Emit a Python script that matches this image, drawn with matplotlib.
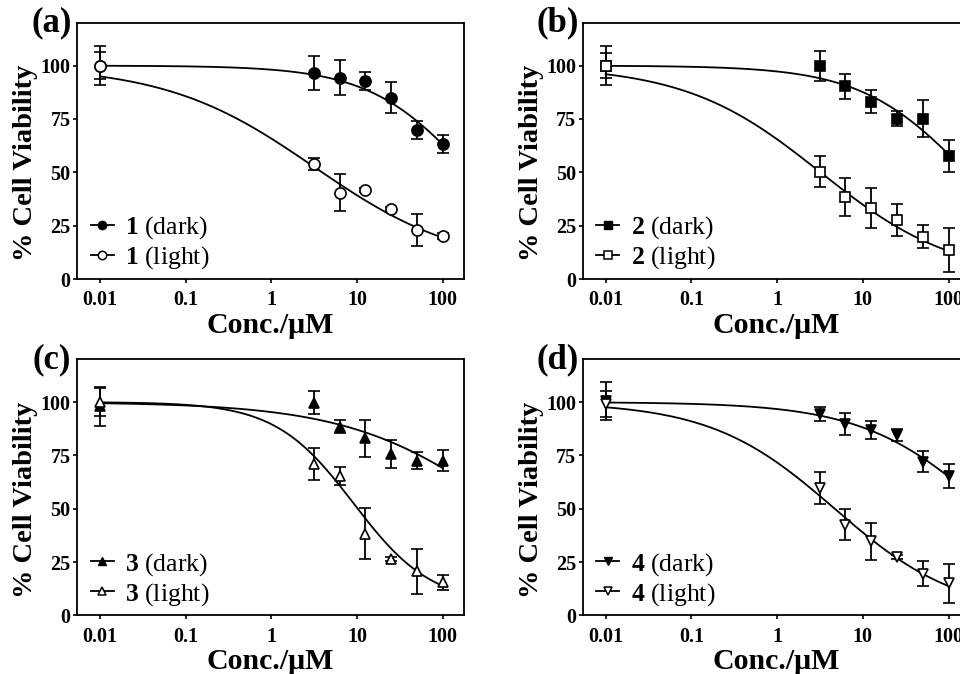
import numpy as np
import matplotlib.pyplot as plt
from matplotlib.lines import Line2D

plt.rcParams['font.family'] = ['Liberation Serif', 'DejaVu Serif']
plt.rcParams['font.weight'] = 'bold'
plt.rcParams['mathtext.fontset'] = 'custom'
plt.rcParams['mathtext.rm'] = 'Liberation Serif'
plt.rcParams['mathtext.bf'] = 'Liberation Serif:bold'

# concentrations (uM)
conc = [0.01, 3.125, 6.25, 12.5, 25, 50, 100]

# % cell viability, mean and error
dark_1 = [100, 96.7, 94.4, 92.8, 85.0, 69.8, 63.2]
dark_1_err = [9, 8, 8, 4, 7.4, 4.4, 4.2]
light_1 = [100, 53.7, 40.5, 41.7, 32.7, 23.1, 20.2]
light_1_err = [6.5, 2.8, 8.7, 1, 1, 7.6, 1.5]

dark_2 = [100, 100, 90.3, 83.0, 75.2, 75.2, 57.6]
dark_2_err = [9, 7, 5.8, 5.4, 3.6, 8.6, 7.4]
light_2 = [100, 50.3, 38.5, 33.2, 27.7, 19.9, 13.6]
light_2_err = [6, 7.4, 8.8, 9.5, 7.4, 5.4, 10.5]

dark_3 = [98, 99.7, 88.4, 83.0, 75.8, 72.5, 72.5]
dark_3_err = [9, 5.5, 3, 8.6, 6.5, 4, 5]
light_3 = [100, 71.2, 65.3, 38.3, 26.6, 20.8, 15.6]
light_3_err = [6.5, 7.5, 4.2, 12, 1, 10.5, 3.5]

dark_4 = [100.5, 94.2, 89.7, 86.9, 84.6, 72.1, 65.4]
dark_4_err = [9, 3.3, 5, 4, 2.7, 4.9, 5.8]
light_4 = [99, 59.7, 42.5, 34.7, 27.4, 19.6, 15.0]
light_4_err = [6, 7.6, 7.2, 8.8, 1, 6, 9]

# four-parameter logistic fits: top, bottom, IC50, hill slope
fit_dark = [(100, 0, 205, 0.74), (100, 0, 163, 0.70),
            (100, 0, 530, 0.48), (100, 0, 281, 0.60)]
fit_light = [(100, 5, 3.16, 0.50), (100, 0, 3.2, 0.55),
             (100, 5, 9.1, 0.95), (100, 0, 4.7, 0.60)]

panel_tags = ['(a)', '(b)', '(c)', '(d)']
compounds = ['1', '2', '3', '4']
markers = ['o', 's', '^', 'v']
darks = [(dark_1, dark_1_err), (dark_2, dark_2_err), (dark_3, dark_3_err), (dark_4, dark_4_err)]
lights = [(light_1, light_1_err), (light_2, light_2_err), (light_3, light_3_err), (light_4, light_4_err)]

x_ticks = [0.01, 0.1, 1, 10, 100]
x_tick_labels = ['0.01', '0.1', '1', '10', '100']
y_ticks = [0, 25, 50, 75, 100]


def logistic(x, top, bottom, ic50, hill):
    return bottom + (top - bottom) / (1 + (x / ic50) ** hill)


def draw_panel(ax, i):
    xs = np.logspace(-2, 2, 300)
    m = markers[i]
    for (vals, err), fit, face in [(darks[i], fit_dark[i], 'k'), (lights[i], fit_light[i], 'white')]:
        ax.plot(xs, logistic(xs, *fit), color='k', lw=1.3, zorder=2)
        ax.errorbar(conc, vals, yerr=err, fmt=m, color='k', mfc=face, mec='k',
                    ms=7.5 if m != 'o' else 8, mew=1.2, elinewidth=1.3, capsize=4.5,
                    capthick=1.3, zorder=3)

    ax.set_xscale('log')
    ax.set_xlim(10 ** -2.268, 10 ** 2.245)
    ax.set_ylim(0, 120)
    ax.set_xticks(x_ticks, x_tick_labels)
    ax.minorticks_off()
    ax.set_yticks(y_ticks)
    ax.tick_params(direction='out', length=3, width=1.2, labelsize=14.5, pad=1.5)
    ax.tick_params(axis='x', pad=5)
    for s in ax.spines.values():
        s.set_linewidth(1.3)

    ax.set_ylabel('% Cell Viability', fontsize=20.5, fontweight='bold')
    ax.yaxis.set_label_coords(-0.10, 0.453)
    ax.set_xlabel('Conc./\u03bcM', fontsize=21.5, fontweight='bold')
    ax.xaxis.set_label_coords(0.5, -0.128)

    ax.text(-0.065, 1.0, panel_tags[i], transform=ax.transAxes, fontsize=25,
            fontweight='bold', ha='center', va='center')

    n = compounds[i]
    handles = [Line2D([], [], color='k', lw=1.3, marker=m, ms=6, mfc='k', mec='k'),
               Line2D([], [], color='k', lw=1.3, marker=m, ms=6, mfc='white', mec='k', mew=1.1)]
    labels = [r'$\mathbf{%s}$ (dark)' % n, r'$\mathbf{%s}$ (light)' % n]
    ax.legend(handles, labels, loc='lower left', bbox_to_anchor=(0.035, 0.03),
              frameon=False, prop={'size': 18.5, 'weight': 'normal'}, handlelength=0.9,
              handletextpad=0.45, labelspacing=0.12, borderpad=0, borderaxespad=0)


def demo():
    fig = plt.figure(figsize=(9.6, 6.74), dpi=100)
    w, h = 0.403, 0.380
    positions = [(0.0802, 0.586), (0.607, 0.586), (0.0802, 0.0868), (0.607, 0.0868)]
    for i, (left, bottom) in enumerate(positions):
        ax = fig.add_axes([left, bottom, w, h])
        draw_panel(ax, i)
    fig.savefig('out.png', dpi=100)


if __name__ == '__main__':
    demo()
